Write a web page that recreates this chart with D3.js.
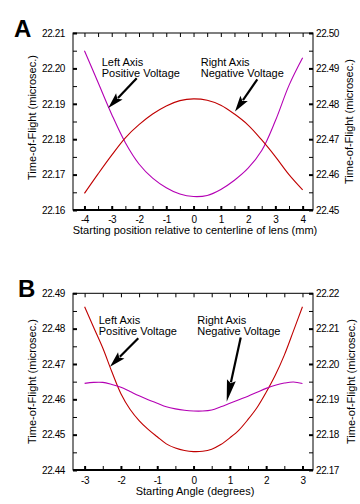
<!DOCTYPE html>
<html><head><meta charset="utf-8">
<script src="https://cdn.jsdelivr.net/npm/d3@7"></script>
<style>
body{margin:0;background:#fff}
svg text{font-family:Arial,"Liberation Sans",Helvetica,sans-serif;fill:#000}
</style>
</head><body>
<svg id="c" width="360" height="504"></svg>
<script>
// ---------- Panel A data ----------
const posX = [-4,-3.5,-3,-2.5,-2,-1.5,-1,-0.5,0,0.5,1,1.5,2,2.5,3,3.5,4];
const posLeftPositive = [22.2050,22.1960,22.1870,22.1790,22.1730,22.1690,22.1663,22.1645,22.1638,22.1641,22.1658,22.1684,22.1718,22.1768,22.1852,22.1952,22.2030];
const posRightNegative = [22.4547,22.4602,22.4655,22.4704,22.4741,22.4771,22.4794,22.4809,22.4814,22.4810,22.4796,22.4771,22.4740,22.4698,22.4651,22.4600,22.4557];
const posXTicks = [-4,-3,-2,-1,0,1,2,3,4];
const posXMinor = [-3.5,-2.5,-1.5,-0.5,0.5,1.5,2.5,3.5];
const posLeftTicks = [22.16,22.17,22.18,22.19,22.20,22.21];
const posRightTicks = [22.45,22.46,22.47,22.48,22.49,22.50];

// ---------- Panel B data ----------
const angleX = [-3,-2.75,-2.5,-2.25,-2,-1.75,-1.5,-1.25,-1,-0.75,-0.5,-0.25,0,0.25,0.5,0.75,1,1.25,1.5,1.75,2,2.25,2.5,2.75,3];
const angleLeftPositive = [22.4862,22.4803,22.4745,22.4678,22.4616,22.4572,22.4540,22.4515,22.4494,22.4474,22.4462,22.4455,22.4452,22.4453,22.4459,22.4472,22.4491,22.4513,22.4543,22.4577,22.4620,22.4668,22.4725,22.4793,22.4862];
const angleRightNegative = [22.1945,22.1948,22.1948,22.1942,22.1934,22.1922,22.1910,22.1899,22.1889,22.1879,22.1873,22.1869,22.1867,22.1867,22.1870,22.1879,22.1889,22.1899,22.1909,22.1920,22.1931,22.1940,22.1946,22.1949,22.1945];
const angleXTicks = [-3,-2,-1,0,1,2,3];
const angleXMinor = [-2.5,-1.5,-0.5,0.5,1.5,2.5];
const angleLeftTicks = [22.44,22.45,22.46,22.47,22.48,22.49];
const angleRightTicks = [22.17,22.18,22.19,22.20,22.21,22.22];

const RED = "#c00000", MAG = "#b400b4";
const svg = d3.select("#c");

function minorsOf(ticks){ const m=[]; for(let i=0;i<ticks.length-1;i++) m.push(+((ticks[i]+ticks[i+1])/2).toFixed(4)); return m; }

function panel(o){
  const g = svg.append("g");
  const L = 73, R = 313;
  const x = d3.scaleLinear().domain(o.xDomain).range([L,R]);
  const yL = d3.scaleLinear().domain([o.leftTicks[0], o.leftTicks[o.leftTicks.length-1]]).range([o.bottom,o.top]);
  const yR = d3.scaleLinear().domain([o.rightTicks[0], o.rightTicks[o.rightTicks.length-1]]).range([o.bottom,o.top]);
  const fmt = d3.format(".2f");
  const noDom = s => s.select(".domain").remove();
  const styleTicks = (s,w) => s.selectAll(".tick line").attr("stroke","#000").attr("stroke-width",w);
  const styleText = s => s.selectAll(".tick text").style("font-size","10px").style("letter-spacing","-0.4px").attr("fill","#000");

  // left axis
  g.append("g").attr("transform",`translate(${L},0)`)
    .call(d3.axisLeft(yL).tickValues(o.leftTicks).tickSize(-4).tickSizeOuter(0).tickPadding(8).tickFormat(fmt))
    .call(noDom).call(s=>styleTicks(s,2)).call(styleText);
  g.append("g").attr("transform",`translate(${L},0)`)
    .call(d3.axisLeft(yL).tickValues(minorsOf(o.leftTicks)).tickSize(-4).tickSizeOuter(0).tickFormat(""))
    .call(noDom).call(s=>styleTicks(s,1));
  // right axis
  g.append("g").attr("transform",`translate(${R},0)`)
    .call(d3.axisRight(yR).tickValues(o.rightTicks).tickSize(-4).tickSizeOuter(0).tickPadding(3).tickFormat(fmt))
    .call(noDom).call(s=>styleTicks(s,2)).call(styleText);
  g.append("g").attr("transform",`translate(${R},0)`)
    .call(d3.axisRight(yR).tickValues(minorsOf(o.rightTicks)).tickSize(-4).tickSizeOuter(0).tickFormat(""))
    .call(noDom).call(s=>styleTicks(s,1));
  // bottom axis
  g.append("g").attr("transform",`translate(0,${o.bottom})`)
    .call(d3.axisBottom(x).tickValues(o.xTicks).tickSize(-4).tickSizeOuter(0).tickPadding(o.xPad).tickFormat(d=>String(d)))
    .call(noDom).call(s=>styleTicks(s,2)).call(styleText);
  g.append("g").attr("transform",`translate(0,${o.bottom})`)
    .call(d3.axisBottom(x).tickValues(o.xMinor).tickSize(-4).tickSizeOuter(0).tickFormat(""))
    .call(noDom).call(s=>styleTicks(s,1));
  // top axis
  g.append("g").attr("transform",`translate(0,${o.top})`)
    .call(d3.axisTop(x).tickValues(o.xTicks).tickSize(-4).tickSizeOuter(0).tickFormat(""))
    .call(noDom).call(s=>styleTicks(s,1));
  g.append("g").attr("transform",`translate(0,${o.top})`)
    .call(d3.axisTop(x).tickValues(o.xMinor).tickSize(-4).tickSizeOuter(0).tickFormat(""))
    .call(noDom).call(s=>styleTicks(s,1));

  // frame
  g.append("rect").attr("x",L).attr("y",o.top).attr("width",R-L).attr("height",o.bottom-o.top)
    .attr("fill","none").attr("stroke","#000").attr("stroke-width",1);
  g.append("line").attr("x1",L).attr("x2",R).attr("y1",o.bottom).attr("y2",o.bottom)
    .attr("stroke","#000").attr("stroke-width",2);

  // curves
  const lineL = d3.line().x(d=>x(d[0])).y(d=>yL(d[1])).curve(d3.curveCatmullRom);
  const lineR = d3.line().x(d=>x(d[0])).y(d=>yR(d[1])).curve(d3.curveCatmullRom);
  g.append("path").attr("d", lineL(o.xs.map((v,i)=>[v,o.leftVals[i]])))
    .attr("fill","none").attr("stroke",o.leftColor).attr("stroke-width",1.1);
  g.append("path").attr("d", lineR(o.xs.map((v,i)=>[v,o.rightVals[i]])))
    .attr("fill","none").attr("stroke",o.rightColor).attr("stroke-width",1.1);

  // axis titles
  g.append("text").attr("transform",`translate(32.5,${o.leftTitleY}) rotate(-90)`)
    .attr("text-anchor","middle").attr("dy","0.35em").style("font-size","11px")
    .text("Time-of-Flight (microsec.)");
  g.append("text").attr("transform",`translate(${o.rightTitleX},${o.rightTitleY}) rotate(-90)`)
    .attr("text-anchor","middle").attr("dy","0.35em").style("font-size","11px")
    .text("Time-of-Flight (microsec.)");
  g.append("text").attr("x",(L+R)/2+2).attr("y",o.xTitleY).attr("text-anchor","middle")
    .style("font-size","11px").text(o.xTitle);

  // panel letter
  g.append("text").attr("x",o.letterX).attr("y",o.top+4).style("font-size","24px").style("font-weight","bold")
    .text(o.letter);

  // annotations (data coordinates of the axis they refer to)
  o.notes.forEach(n=>{
    const t = g.append("text").attr("x",x(n.tx)).attr("y",yL(n.ty)).style("font-size","11px");
    t.append("tspan").attr("x",x(n.tx)).text(n.l1);
    t.append("tspan").attr("x",x(n.tx)).attr("dy",11).text(n.l2);
    const x0=x(n.ax0), y0=yL(n.ay0), x1=x(n.ax1), y1=yL(n.ay1);
    const dx=x1-x0, dy=y1-y0, len=Math.hypot(dx,dy), ux=dx/len, uy=dy/len;
    const hl=n.head, hw=4.5;
    const bx=x1-ux*hl, by=y1-uy*hl;
    g.append("line").attr("x1",x0).attr("y1",y0).attr("x2",bx+ux*2).attr("y2",by+uy*2)
      .attr("stroke","#000").attr("stroke-width",2.2);
    g.append("polygon").attr("points",[[x1,y1],[bx-uy*hw,by+ux*hw],[bx+ux*3,by+uy*3],[bx+uy*hw,by-ux*hw]].map(p=>p.join(",")).join(" "))
      .attr("fill","#000");
  });
}

panel({
  xDomain:[-4.42,4.38], top:33, bottom:210,
  leftTicks:posLeftTicks, rightTicks:posRightTicks,
  xTicks:posXTicks, xMinor:posXMinor, xPad:5.5,
  xs:posX, leftVals:posLeftPositive, rightVals:posRightNegative,
  leftColor:MAG, rightColor:RED,
  leftTitleY:117.5, rightTitleX:349.5, rightTitleY:121.5,
  xTitle:"Starting position relative to centerline of lens (mm)", xTitleY:234,
  letter:"A", letterX:14,
  notes:[
    {l1:"Left Axis", l2:"Positive Voltage", tx:-3.368, ty:22.2007, ax0:-2.084, ay0:22.1972, ax1:-3.126, ay1:22.1888, head:16},
    {l1:"Right Axis", l2:"Negative Voltage", tx:0.262, ty:22.2007, ax0:2.338, ay0:22.1969, ax1:1.52, ay1:22.1878, head:16}
  ]
});

panel({
  xDomain:[-3.32,3.29], top:293.3, bottom:470,
  leftTicks:angleLeftTicks, rightTicks:angleRightTicks,
  xTicks:angleXTicks, xMinor:angleXMinor, xPad:6.5,
  xs:angleX, leftVals:angleLeftPositive, rightVals:angleRightNegative,
  leftColor:RED, rightColor:MAG,
  leftTitleY:381.5, rightTitleX:351, rightTitleY:381.5,
  xTitle:"Starting Angle (degrees)", xTitleY:495,
  letter:"B", letterX:18,
  notes:[
    {l1:"Left Axis", l2:"Positive Voltage", tx:-2.612, ty:22.4813, ax0:-1.522, ay0:22.4773, ax1:-2.301, ay1:22.4692, head:16},
    {l1:"Right Axis", l2:"Negative Voltage", tx:0.103, ty:22.4813, ax0:1.299, ay0:22.4775, ax1:0.913, ay1:22.4593, head:22}
  ]
});
</script>
</body></html>
